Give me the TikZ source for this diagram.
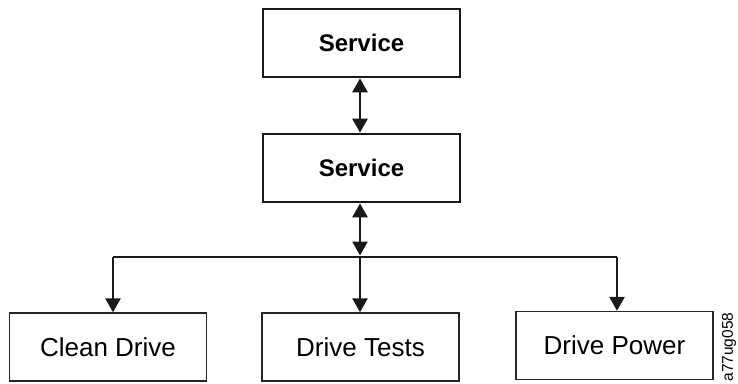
\documentclass[tikz,border=0pt]{standalone}
\usepackage{fontspec}
\setmainfont{Liberation Sans}
\usetikzlibrary{arrows.meta,positioning,calc}

\begin{document}
\begin{tikzpicture}[x=1pt, y=-1pt,
  menubox/.style={rectangle, draw=black!90, line width=2.6pt, minimum width=197pt, minimum height=68pt, inner sep=0pt, font=\fontsize{24}{28}\selectfont\bfseries},
  itembox/.style={rectangle, draw=black!85, line width=1.4pt, minimum width=197pt, minimum height=68pt, inner sep=0pt, font=\fontsize{26}{30}\selectfont},
  flowarrow/.style={-{Triangle[length=14pt,width=15pt]}, line width=2.6pt, color=black!90},
  biarrow/.style={{Triangle[length=14pt,width=15pt]}-{Triangle[length=14pt,width=15pt]}, line width=2.6pt, color=black!90}
]
\useasboundingbox (0,0) rectangle (738,383);

% Top: the two Service menus
\node[menubox] (svctop) at (361.5, 43) {Service};
\node[menubox] (svcsub) at (361.5, 168) {Service};

% Bottom row: the three items
\node[itembox] (clean) at (108, 347) {Clean Drive};
\node[itembox] (tests) at (360.5, 347) {Drive Tests};
\node[itembox] (power) at (614.5, 345.5) {Drive Power};

% Branch point and drop points
\coordinate (branch) at (360, 257);
\coordinate (dropl) at ($(clean.north)+(5,0)$);
\coordinate (dropr) at ($(power.north)+(2.5,0)$);

% Connectors
\draw[biarrow] (svctop.south -| 360,0) -- (svcsub.north -| 360,0);
\draw[biarrow] (svcsub.south -| 360,0) -- ($(branch)+(0,-1.5)$);
\draw[line width=2.6pt, color=black!90] (dropl |- branch) -- (dropr |- branch);
\draw[flowarrow] (dropl |- branch) -- (dropl);
\draw[flowarrow] (branch) -- (branch |- tests.north);
\draw[flowarrow] (dropr |- branch) -- (dropr);

% Figure id
\node[rotate=90, font=\fontsize{15.5}{18}\selectfont, inner sep=0pt] (figid) at (729, 347) {a77ug058};

\end{tikzpicture}
\end{document}
